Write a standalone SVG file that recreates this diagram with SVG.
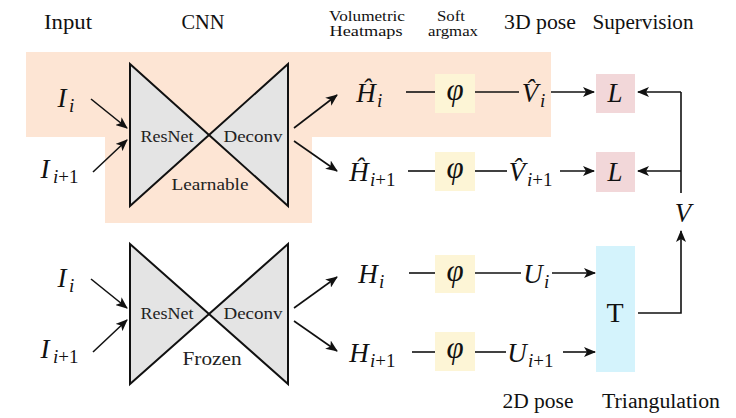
<svg xmlns="http://www.w3.org/2000/svg" width="736" height="418" viewBox="0 0 736 418" font-family="'Liberation Serif','Times New Roman','DejaVu Serif',serif">
<defs>
<marker id="ah" viewBox="0 0 12 10" refX="11" refY="5" markerWidth="12" markerHeight="10" markerUnits="userSpaceOnUse" orient="auto">
<path d="M0,0 L12,5 L0,10 L3,5 Z" fill="#111"/>
</marker>
</defs>
<style>
text{font-family:'Liberation Serif','Times New Roman','DejaVu Serif',serif;fill:#111}
.title{font-size:20px;text-anchor:middle}
.small{font-size:15px;text-anchor:middle}
.net{font-size:16px;text-anchor:middle;fill:#222}
.m{font-style:italic;font-size:27px}
.c{text-anchor:middle}
.s{font-style:italic;font-size:19px}
.n{font-style:normal}
.f{font-style:italic;font-size:31px}
.bow{fill:#e4e4e4;stroke:#111;stroke-width:2;stroke-linejoin:miter}
.ln{stroke:#111;stroke-width:1.6;fill:none}
.ar{stroke:#111;stroke-width:1.6;fill:none;marker-end:url(#ah)}
.phi{fill:#fdf5d6}
.loss{fill:#f2d7d9}
.tri{fill:#d4f3fc}
</style>
<rect width="736" height="418" fill="#fff"/>
<g id="learnable-region">
<polygon points="26,52 551,52 551,137 312,137 312,223 105,223 105,137 26,137" fill="#fde5d4"/>
</g>
<g id="titles">
<text class="title" x="68" y="29" textLength="48" lengthAdjust="spacingAndGlyphs">Input</text>
<text class="title" x="203" y="29" textLength="43" lengthAdjust="spacingAndGlyphs">CNN</text>
<text class="small" x="367" y="21" textLength="76" lengthAdjust="spacingAndGlyphs">Volumetric</text>
<text class="small" x="366" y="36" textLength="73" lengthAdjust="spacingAndGlyphs">Heatmaps</text>
<text class="small" x="451" y="21" textLength="28" lengthAdjust="spacingAndGlyphs">Soft</text>
<text class="small" x="453" y="36" textLength="50" lengthAdjust="spacingAndGlyphs">argmax</text>
<text class="title" x="540" y="29" textLength="72" lengthAdjust="spacingAndGlyphs">3D pose</text>
<text class="title" x="643" y="29" textLength="101" lengthAdjust="spacingAndGlyphs">Supervision</text>
<text class="title" x="538" y="408" textLength="71" lengthAdjust="spacingAndGlyphs">2D pose</text>
<text class="title" x="661" y="408" textLength="118" lengthAdjust="spacingAndGlyphs">Triangulation</text>
</g>
<g id="cnn-learnable">
<polygon class="bow" points="130,64 209,135 130,206"/>
<polygon class="bow" points="288,64 209,135 288,206"/>
<text class="net" x="167" y="142" textLength="53" lengthAdjust="spacingAndGlyphs">ResNet</text>
<text class="net" x="253" y="142" textLength="59" lengthAdjust="spacingAndGlyphs">Deconv</text>
<text class="net" x="210" y="190" textLength="77" lengthAdjust="spacingAndGlyphs">Learnable</text>
</g>
<g id="cnn-frozen">
<polygon class="bow" points="130,244 209,314 130,384"/>
<polygon class="bow" points="288,244 209,314 288,384"/>
<text class="net" x="167" y="319" textLength="53" lengthAdjust="spacingAndGlyphs">ResNet</text>
<text class="net" x="253" y="319" textLength="59" lengthAdjust="spacingAndGlyphs">Deconv</text>
<text class="net" x="212" y="365" style="font-size:18px" textLength="59" lengthAdjust="spacingAndGlyphs">Frozen</text>
</g>
<g id="inputs">
<text class="m c" x="62" y="107">I</text><text class="s" x="69" y="112">i</text>
<text class="m c" x="45" y="178">I</text><text class="s" x="53" y="183">i<tspan class="n">+1</tspan></text>
<text class="m c" x="62" y="287">I</text><text class="s" x="69" y="292">i</text>
<text class="m c" x="45" y="358">I</text><text class="s" x="53" y="363">i<tspan class="n">+1</tspan></text>
</g>
<g id="heatmaps">
<text class="m c" x="366" y="102">Ĥ</text><text class="s" x="377" y="107">i</text>
<text class="m c" x="359" y="181">Ĥ</text><text class="s" x="370" y="186">i<tspan class="n">+1</tspan></text>
<text class="m c" x="368" y="283">H</text><text class="s" x="379" y="288">i</text>
<text class="m c" x="359" y="362">H</text><text class="s" x="370" y="367">i<tspan class="n">+1</tspan></text>
</g>
<g id="softargmax">
<rect class="phi" x="435" y="74" width="40" height="39"/>
<rect class="phi" x="435" y="152" width="40" height="39"/>
<rect class="phi" x="435" y="255" width="40" height="38"/>
<rect class="phi" x="435" y="332" width="40" height="39"/>
<text class="f c" x="455" y="100">φ</text>
<text class="f c" x="455" y="178">φ</text>
<text class="f c" x="455" y="281">φ</text>
<text class="f c" x="455" y="358">φ</text>
</g>
<g id="poses">
<text class="m c" x="530" y="102">V̂</text><text class="s" x="540" y="107">i</text>
<text class="m c" x="517" y="181">V̂</text><text class="s" x="527" y="186">i<tspan class="n">+1</tspan></text>
<text class="m c" x="533" y="283">U</text><text class="s" x="544" y="288">i</text>
<text class="m c" x="517" y="362">U</text><text class="s" x="528" y="367">i<tspan class="n">+1</tspan></text>
</g>
<g id="loss-top">
<rect class="loss" x="596" y="74" width="39" height="39"/>
<text class="m c" x="615" y="102">L</text>
</g>
<g id="loss-bottom">
<rect class="loss" x="596" y="152" width="39" height="40"/>
<text class="m c" x="615" y="181">L</text>
</g>
<g id="triangulation">
<rect class="tri" x="596" y="246" width="39" height="126"/>
<text class="c" x="615" y="322" style="font-size:28px">T</text>
</g>
<g id="v-label">
<text class="m c" x="683" y="222">V</text>
</g>
<g id="connectors">
<line class="ar" x1="91" y1="99" x2="127" y2="128"/>
<line class="ar" x1="93" y1="172" x2="127" y2="140"/>
<line class="ar" x1="91" y1="279" x2="127" y2="308"/>
<line class="ar" x1="93" y1="352" x2="127" y2="320"/>
<line class="ar" x1="294" y1="128" x2="337" y2="95"/>
<line class="ar" x1="294" y1="141" x2="337" y2="171"/>
<line class="ar" x1="294" y1="308" x2="337" y2="277"/>
<line class="ar" x1="294" y1="321" x2="337" y2="351"/>
<line class="ln" x1="406" y1="92" x2="435" y2="92"/>
<line class="ln" x1="475" y1="92" x2="519" y2="92"/>
<line class="ar" x1="551" y1="92" x2="594" y2="92"/>
<line class="ln" x1="408" y1="171" x2="435" y2="171"/>
<line class="ln" x1="475" y1="171" x2="507" y2="171"/>
<line class="ar" x1="560" y1="171" x2="594" y2="171"/>
<line class="ln" x1="409" y1="273" x2="435" y2="273"/>
<line class="ln" x1="475" y1="273" x2="521" y2="273"/>
<line class="ar" x1="552" y1="273" x2="595" y2="273"/>
<line class="ln" x1="412" y1="352" x2="435" y2="352"/>
<line class="ln" x1="475" y1="352" x2="506" y2="352"/>
<line class="ar" x1="563" y1="352" x2="595" y2="352"/>
<polyline class="ln" points="681,193 681,92"/>
<line class="ar" x1="681" y1="92" x2="638" y2="92"/>
<line class="ar" x1="681" y1="171" x2="638" y2="171"/>
<polyline class="ar" points="638,313 681,313 681,231"/>
</g>
</svg>
